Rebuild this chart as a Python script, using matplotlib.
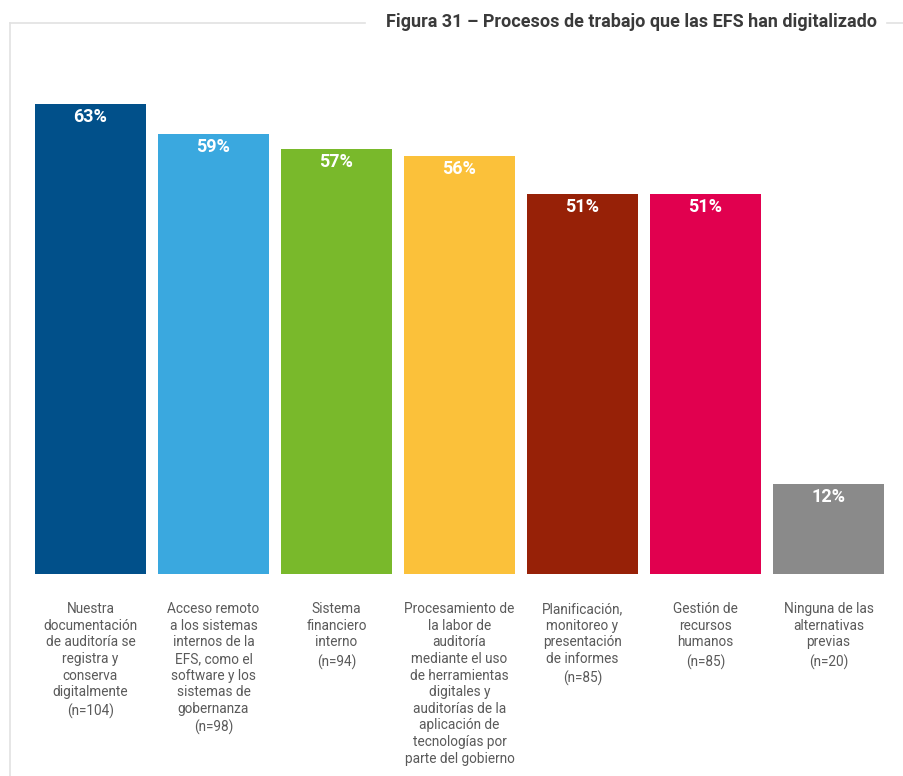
import matplotlib.pyplot as plt
from matplotlib.lines import Line2D

plt.rcParams['font.family'] = ['Roboto', 'DejaVu Sans']

categories = [
    "Nuestra\ndocumentación\nde auditoría se\nregistra y\nconserva\ndigitalmente",
    "Acceso remoto\na los sistemas\ninternos de la\nEFS, como el\nsoftware y los\nsistemas de\ngobernanza",
    "Sistema\nfinanciero\ninterno",
    "Procesamiento de\nla labor de\nauditoría\nmediante el uso\nde herramientas\ndigitales y\nauditorías de la\naplicación de\ntecnologías por\nparte del gobierno",
    "Planificación,\nmonitoreo y\npresentación\nde informes",
    "Gestión de\nrecursos\nhumanos",
    "Ninguna de las\nalternativas\nprevias",
]
n_values = [104, 98, 94, None, 85, 85, 20]
percent = [63, 59, 57, 56, 51, 51, 12]
colors = ["#01508a", "#3aa8df", "#79b92b", "#fbc13a", "#972107", "#e1004f", "#8a8a8a"]

W, H = 904, 776
fig = plt.figure(figsize=(W / 100, H / 100), dpi=100)
ax = fig.add_axes([29 / W, (H - 574) / H, 861 / W, 470 / H])

x = list(range(len(percent)))
bars = ax.bar(x, percent, width=0.9, color=colors)
ax.set_xlim(-0.5, len(percent) - 0.5)
ax.set_ylim(0, 63)
ax.axis('off')

for b, v in zip(bars, percent):
    ax.annotate(f"{v}%", (b.get_x() + b.get_width() / 2, v),
                xytext=(0, -13), textcoords='offset pixels',
                ha='center', va='center', color='white',
                fontsize=13, fontweight='bold')

line_px = 16.25
for i, (lab, n) in enumerate(zip(categories, n_values)):
    ax.annotate(lab, (i, 0), xytext=(0, -28), textcoords='offset pixels',
                ha='center', va='top', color='#5a5a5a', fontsize=9.8,
                linespacing=1.24, annotation_clip=False)
    if n is not None:
        nlines = lab.count("\n") + 1
        ax.annotate(f"(n={n})", (i, 0),
                    xytext=(0, -28 - nlines * line_px - 4), textcoords='offset pixels',
                    ha='center', va='top', color='#5a5a5a', fontsize=9.8,
                    annotation_clip=False)

# frame lines around the title
fig.add_artist(Line2D([10 / W, 365 / W], [1 - 23 / H, 1 - 23 / H], color='#e2e2e2', lw=1.2))
fig.add_artist(Line2D([10 / W, 10 / W], [1 - 23 / H, 0], color='#e2e2e2', lw=1.2))
fig.add_artist(Line2D([887 / W, 1], [1 - 23 / H, 1 - 23 / H], color='#e2e2e2', lw=1.2))

fig.text(632 / W, 1 - 22 / H, "Figura 31 – Procesos de trabajo que las EFS han digitalizado",
         ha='center', va='center', fontsize=13, fontweight='bold', color='#3a3a3a')

fig.savefig("out.png", dpi=100)
